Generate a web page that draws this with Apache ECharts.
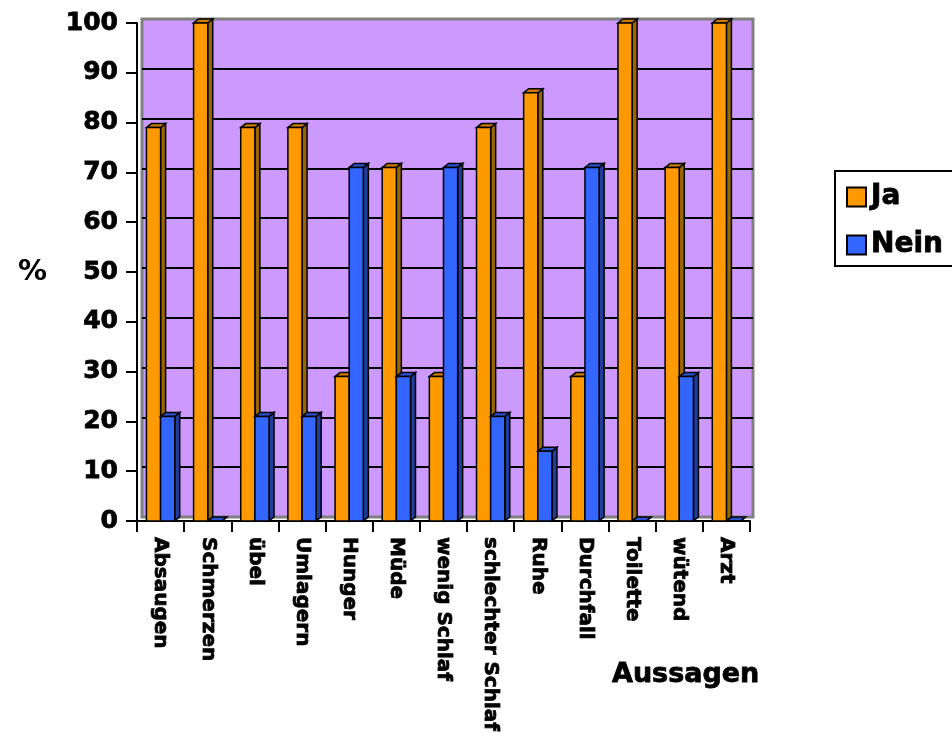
<!DOCTYPE html>
<html>
<head>
<meta charset="utf-8">
<script src="https://cdn.jsdelivr.net/npm/echarts@6/dist/echarts.min.js"></script>
<style>
  html, body { margin: 0; padding: 0; background: #ffffff; }
  #chart { width: 952px; height: 738px; }
</style>
</head>
<body>
<div id="chart"></div>
<script>
// Survey statements and the share of yes / no answers (percent)
const categories = ['Absaugen', 'Schmerzen', 'übel', 'Umlagern', 'Hunger', 'Müde', 'wenig Schlaf',
  'schlechter Schlaf', 'Ruhe', 'Durchfall', 'Toilette', 'wütend', 'Arzt'];
const jaValues   = [79, 100, 79, 79, 29, 71, 29, 79, 86, 29, 100, 71, 100];
const neinValues = [21,   0, 21, 21, 71, 29, 71, 21, 14, 71,   0, 29,   0];
const seriesNames = ['Ja', 'Nein'];
const yMin = 0, yMax = 100, yStep = 10;

const FONT = 'DejaVu Sans';
// heavy black text: bold face plus a thin outline of the same colour
const heavy = { fontFamily: FONT, fontWeight: 'bold', color: '#000', textBorderColor: '#000', textBorderWidth: 0.8 };

// colours for the front, top and side faces of each bar series
const palettes = [
  { front: '#FF9900', top: '#CC7A00', side: '#996600' },
  { front: '#3366FF', top: '#2952CC', side: '#1F3D99' }
];

// Draws a bar with a small pseudo-3D depth (top and right side faces)
function makeBarRenderer(slot, pal) {
  return function (params, api) {
    const idx = api.value(0);
    const v = api.value(1);
    const p = api.coord([idx, v]);
    const b = api.coord([idx, 0]);
    const band = api.size([1, 0])[0];
    const w = band * 0.30;
    const x0 = slot === 0 ? p[0] - w : p[0];
    const x1 = x0 + w;
    const yt = p[1], yb = b[1];
    const dx = 5, dy = -4;
    const stroke = { stroke: '#000', lineWidth: 1.5, lineJoin: 'miter' };
    return {
      type: 'group',
      children: [
        {
          type: 'polygon',
          shape: { points: [[x1, yt], [x1 + dx, yt + dy], [x1 + dx, yb + dy], [x1, yb]] },
          style: Object.assign({ fill: pal.side }, stroke)
        },
        {
          type: 'polygon',
          shape: { points: [[x0, yt], [x1, yt], [x1 + dx, yt + dy], [x0 + dx, yt + dy]] },
          style: Object.assign({ fill: pal.top }, stroke)
        },
        {
          type: 'rect',
          shape: { x: x0, y: yt, width: w, height: yb - yt },
          style: Object.assign({ fill: pal.front }, stroke)
        }
      ]
    };
  };
}

const seriesData = [jaValues, neinValues].map(vals => vals.map((v, i) => [i, v]));

const chart = echarts.init(document.getElementById('chart'), null, { renderer: 'canvas' });

chart.setOption({
  animation: false,
  backgroundColor: '#ffffff',
  title: {
    text: 'Aussagen',
    left: 612, top: 661, padding: 0,
    textStyle: Object.assign({ fontSize: 27 }, heavy)
  },
  legend: {
    orient: 'vertical',
    left: 835, top: 171,
    padding: [11, 12, 6, 11],
    itemGap: 18,
    itemWidth: 19, itemHeight: 19,
    borderColor: '#000', borderWidth: 2,
    textStyle: Object.assign({ fontSize: 28, lineHeight: 30 }, heavy),
    data: [
      { name: seriesNames[0], icon: 'rect', itemStyle: { color: palettes[0].front, borderColor: '#000', borderWidth: 2 } },
      { name: seriesNames[1], icon: 'rect', itemStyle: { color: palettes[1].front, borderColor: '#000', borderWidth: 2 } }
    ]
  },
  grid: [
    // front plane: axes and bars
    { left: 137, top: 23, width: 613, height: 498, containLabel: false },
    // back wall, shifted up and to the right
    { left: 142, top: 19, width: 611, height: 498, show: true,
      backgroundColor: '#CC99FF', borderColor: '#808080', borderWidth: 3, z: -1 }
  ],
  xAxis: [
    {
      type: 'category', gridIndex: 0, data: categories, boundaryGap: true,
      axisLine: { lineStyle: { color: '#000', width: 2 } },
      axisTick: { show: true, length: 11, lineStyle: { color: '#000', width: 2 } },
      axisLabel: Object.assign({ rotate: -90, margin: 16, interval: 0, fontSize: 20 }, heavy),
      splitLine: { show: false }
    },
    {
      type: 'category', gridIndex: 1, data: categories, show: true,
      axisLine: { show: false }, axisTick: { show: false }, axisLabel: { show: false },
      splitLine: { show: false }
    }
  ],
  yAxis: [
    {
      type: 'value', gridIndex: 0, min: yMin, max: yMax, interval: yStep,
      name: '%', nameLocation: 'middle', nameRotate: 0, nameGap: 90,
      nameTextStyle: { fontFamily: FONT, fontSize: 29, fontWeight: 'bold', color: '#000' },
      axisLine: { show: true, lineStyle: { color: '#000', width: 2 } },
      axisTick: { show: true, length: 11, lineStyle: { color: '#000', width: 2 } },
      axisLabel: Object.assign({ margin: 19, fontSize: 25 }, heavy),
      splitLine: { show: false }
    },
    {
      type: 'value', gridIndex: 1, min: yMin, max: yMax, interval: yStep, show: true,
      axisLine: { show: false }, axisTick: { show: false }, axisLabel: { show: false },
      splitLine: { show: true, showMinLine: false, showMaxLine: false,
        lineStyle: { color: '#000', width: 2 } }
    }
  ],
  series: seriesNames.map((name, s) => ({
    name: name,
    type: 'custom',
    xAxisIndex: 0, yAxisIndex: 0,
    itemStyle: { color: palettes[s].front },
    encode: { x: 0, y: 1 },
    data: seriesData[s],
    renderItem: makeBarRenderer(s, palettes[s]),
    z: 5
  }))
});
</script>
</body>
</html>
